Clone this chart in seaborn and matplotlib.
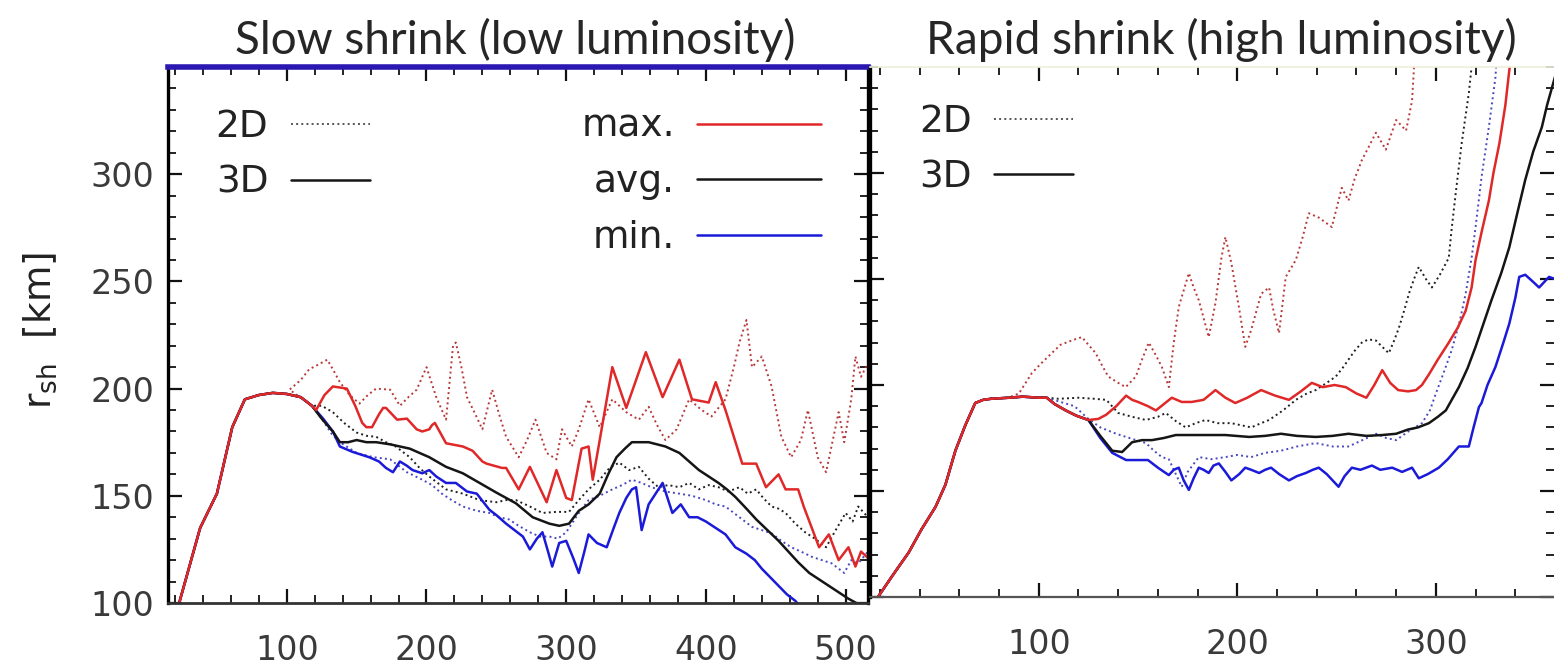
import numpy as np
import pandas as pd
import seaborn as sns
import matplotlib
matplotlib.use("Agg")
import matplotlib.pyplot as plt
from matplotlib.lines import Line2D
from matplotlib.ticker import MultipleLocator

# ---------------- data: left panel (slow shrink) ----------------
left_rise_x = [15, 23, 38, 50, 61, 70, 80, 90, 100, 110, 118]
left_rise_y = [89, 100, 135, 151, 182, 195, 197, 198, 197.5, 196, 192]

left_3d_max_x = [121, 127, 133, 143, 149, 154, 157, 161, 166, 169, 171, 179, 186, 193, 197, 202, 204, 206, 214, 226, 233,
                 240, 243, 254, 257, 266, 274, 286, 293, 300, 304, 311, 316, 319, 324, 333, 343, 357, 369, 381, 390,
                 402, 407, 414, 426, 436, 443, 452, 457, 466, 470, 481, 488, 495, 502, 507, 511, 516]
left_3d_max_y = [190, 197, 201, 200, 192, 184, 182, 182, 188, 191, 191, 185.5, 186, 181, 180, 181, 183, 184, 174.5, 173, 171,
                 166, 165, 163, 163, 153, 163.5, 147, 162, 149, 148, 172, 173, 157.5, 176, 210, 191, 217, 196, 213.5, 195,
                 193.5, 203, 190, 165, 165, 154, 160, 153, 153, 145, 126, 132, 120, 126, 117, 124, 121]

left_3d_avg_x = [125, 133, 138, 144, 150, 157, 164, 174, 188, 202, 214, 226, 238, 250, 264, 276, 288, 295, 302, 309,
                 316, 324, 330, 336, 342, 347, 353, 359, 365, 371, 381, 388, 395, 402, 409, 415, 421, 429, 436, 444,
                 452, 459, 466, 474, 481, 488, 495, 502, 509, 516]
left_3d_avg_y = [186, 180, 175, 175, 176, 175, 175, 174, 172, 168, 163.5, 160.5, 156, 151.5, 146.5, 140, 137, 136, 137, 143,
                 146, 151, 160, 168, 172, 175, 175, 175, 174, 173, 170, 166, 162, 159, 156, 153, 149.5, 144, 139, 134,
                 129, 124, 119, 114, 111, 108, 105, 102, 99.5, 97]

left_3d_min_x = [126, 133, 138, 147, 159, 166, 171, 176, 181, 186, 190, 197, 202, 207, 214, 221, 229, 236, 245, 250,
                 257, 263, 269, 274, 279, 283, 287, 290, 295, 300, 305, 309, 313, 316, 322, 329, 334, 338, 343, 347,
                 350, 354, 359, 364, 369, 372, 376, 382, 388, 394, 400, 407, 414, 421, 429, 435, 440, 446, 452, 458,
                 464, 470]
left_3d_min_y = [186, 180, 173, 170.5, 168, 166, 163, 161, 166, 164, 162, 160.5, 162, 159, 156, 156, 152, 151, 143.5, 141,
                 137, 134, 131, 125, 130, 133, 124, 117, 128, 129, 121, 114, 124, 132, 128, 126, 135, 142, 149, 153,
                 154, 134, 146, 151, 156, 150, 142, 146, 140, 140, 138, 135, 132, 126, 123, 120, 116, 112, 108, 104,
                 101, 96]

left_2d_max_x = [102, 110, 116, 122, 129, 133, 138, 145, 152, 158, 164, 174, 181, 187, 193, 200, 207, 214, 219, 221,
                 225, 229, 235, 240, 247, 252, 257, 266, 272, 278, 286, 293, 297, 304, 309, 316, 324, 333, 343, 352,
                 359, 365, 371, 379, 388, 397, 404, 414, 420, 424, 429, 433, 440, 447, 454, 461, 468, 473, 480, 486,
                 495, 499, 504, 507, 511, 516]
left_2d_max_y = [199.5, 204, 209, 211, 213.5, 209, 203, 197, 193, 197, 200, 199.5, 192, 196, 199.5, 210, 196, 185.5, 220, 221.5,
                 210, 196, 188, 181, 199.5, 188, 177.5, 168, 176, 185.5, 170, 167, 181, 173, 181, 195, 182, 195, 189, 185.5,
                 191.5, 183, 176, 181, 195, 190, 187, 195, 210, 221.5, 232, 210, 215, 201, 177.5, 168, 176, 190, 168, 161,
                 189, 175, 195, 215, 205.5, 212]

left_2d_avg_x = [125, 133, 141, 150, 157, 164, 171, 178, 188, 195, 202, 208, 214, 226, 238, 250, 257, 264, 274, 283,
                 293, 302, 309, 316, 324, 331, 338, 345, 352, 359, 366, 373, 381, 388, 395, 402, 409, 416, 424, 430,
                 436, 441, 447, 452, 457, 464, 471, 478, 486, 492, 500, 505, 509, 516]
left_2d_avg_y = [192, 189, 184, 179.5, 178, 177.5, 175, 173, 168, 163, 159, 156, 153, 151, 148, 147, 148, 148, 145, 142,
                 142.5, 142.5, 148, 153, 157.5, 163, 165.5, 162, 163.5, 158, 154, 155, 154, 156, 153, 155, 154, 152, 154, 151,
                 153, 149, 145, 144, 142, 137, 133, 130, 126, 133, 142, 138, 145, 140]

left_2d_min_x = [125, 132, 138, 150, 162, 174, 186, 197, 204, 211, 218, 226, 236, 245, 252, 259, 266, 274, 281, 288,
                 294, 300, 308, 316, 324, 333, 340, 347, 354, 361, 371, 381, 390, 400, 407, 414, 424, 433, 440, 447,
                 454, 461, 468, 476, 483, 490, 495, 499, 504, 509, 516]
left_2d_min_y = [186, 179, 175, 170, 168, 167, 161, 157.5, 155, 151, 148, 145, 143, 142, 140, 139, 136, 133, 131, 131,
                 130, 133, 141, 148, 150, 153, 155, 157.5, 156, 154, 152, 151, 150, 148, 146, 145, 140, 135.5, 134, 132.5,
                 129, 126, 124, 121.5, 120, 118.5, 116, 114, 120, 118.5, 124]

# ---------------- data: right panel (rapid shrink) ----------------
right_rise_x = [15, 19, 27, 34.5, 41, 48, 53, 58, 63, 68, 72, 76, 85, 92, 100, 104]
right_rise_y = [92, 100, 111, 121, 132, 142.5, 153, 169, 181, 191.5, 193, 193.5, 194, 194.5, 194, 194]

right_3d_max_x = [108, 113.6, 119, 125, 130, 134, 139, 144, 147, 150, 155, 159, 163, 167, 172, 177, 183, 189, 194, 199,
                  205, 212, 219, 226, 232, 237.5, 243, 249, 254.6, 260, 265, 269, 273, 277, 281, 286, 290, 293, 296.5, 301,
                  306.5, 311, 315, 318, 320, 323, 326.7, 329, 332, 335, 337, 339]
right_3d_max_y = [191, 188, 185.5, 183.5, 184, 186, 190, 195, 193, 192, 190, 188, 191, 194, 192, 192, 193, 197.6, 194, 191.5,
                  194, 197.6, 195, 193, 197, 201, 199, 200, 199, 196, 194, 200, 207, 201, 197.6, 197, 197.6, 200, 205, 212,
                  220, 227, 235, 246, 259, 272, 287, 300, 314, 332, 348.6, 360]

right_3d_avg_x = [108, 113.6, 119, 125, 131, 137, 142, 147, 152, 157, 163, 169, 180, 194, 206, 214, 222, 230, 239.5, 248,
                  256, 265, 273, 280, 286, 291, 296.5, 301, 305, 308, 311.6, 316, 320, 324, 328, 333, 337, 341, 345, 349,
                  353.4, 356, 359, 362]
right_3d_avg_y = [191, 188, 185.5, 183.5, 176, 169, 168.4, 173, 174, 174, 175, 176.4, 176.4, 176.4, 175.5, 176, 177, 176, 175.5, 176,
                  177, 176, 176.4, 177, 179, 180, 182, 185, 188, 193, 199, 208, 218, 229, 240, 253, 265, 281, 296.7, 310,
                  321.7, 332, 342, 352]

right_3d_min_x = [108, 113.6, 119, 125, 131, 137, 144, 150, 155, 160, 165.5, 168, 170.5, 173, 175.6, 178, 180.6, 183, 185.6, 188,
                  190.7, 194, 197, 201, 204, 207, 211, 214, 217, 221, 226, 230, 234.5, 238, 241, 245, 248, 251, 254, 257.7,
                  262, 267.8, 272, 278, 283, 288, 291.4, 296, 301.5, 306, 311.6, 316.6, 319, 321.7, 323, 326, 330, 334, 337, 340,
                  342, 345, 348, 352, 355, 357, 360]
right_3d_min_y = [191, 188, 185.5, 183.5, 175, 168, 164.6, 164.6, 164.6, 161, 157.5, 160, 161, 155, 150.5, 156, 161, 160, 158.5, 162,
                  163, 159, 155, 158, 161, 160, 158.5, 160, 161, 158, 155, 157, 158.5, 160, 161, 158, 155, 152, 157, 161,
                  160, 162, 160, 161, 159, 161, 156, 158, 161, 165, 171, 171, 180, 189.6, 191.5, 200, 208.5, 220, 229, 241,
                  251, 252, 249.5, 246, 249, 251, 250]

right_2d_max_x = [86, 90, 96.5, 101, 106.5, 111, 116.6, 121.7, 125, 128.7, 132, 135, 140, 143.8, 148.9, 152, 155.4, 159, 162, 165.5,
                  168, 170.5, 175.6, 178, 180.6, 185.6, 189, 192, 194, 197, 200.8, 204, 207, 212, 216, 218, 221, 224.4, 229.5, 233,
                  236, 241, 247.6, 252.6, 256, 259, 262.7, 266, 269.8, 274.8, 280, 285, 288, 289, 290]
right_2d_max_y = [194.5, 196, 205.6, 210, 215, 219, 221, 222.6, 219, 215, 209, 204, 201, 199, 204, 212, 220, 214, 208.5, 199,
                  220, 236.8, 252.8, 246, 240, 222.6, 238.7, 260, 269.8, 257.5, 236.8, 218, 226, 243, 246, 236, 224.5, 251, 259, 270,
                  281, 279, 274.5, 293, 287, 297, 306, 312, 319, 311, 325, 320, 334, 350, 365]

right_2d_avg_x = [110, 120, 128, 134, 140, 147, 154, 160, 164, 169, 174, 179, 184, 190, 197, 202, 207, 212, 216, 223,
                  229.5, 235, 239.5, 245, 249.6, 253, 256, 259, 262.7, 266, 269.8, 273, 276.3, 279, 281.4, 284, 286.4, 289, 291.4, 295,
                  298, 302, 306.5, 308, 310, 313, 316.6, 318, 319]
right_2d_avg_y = [193.5, 194, 193.5, 193, 186.8, 185, 183.5, 185, 186.8, 183, 180, 182, 183.5, 182, 182, 181, 180, 182, 183.5, 188,
                  193, 196, 197.6, 201, 204, 208, 212, 216, 220, 221.5, 221, 218, 215, 221, 227, 235, 243, 250, 255.7, 250,
                  246, 252, 260, 274, 290.5, 314, 337.7, 350, 362]

right_2d_min_x = [118, 125, 131, 139, 144, 149, 154, 158, 162, 165.5, 168, 172, 175, 180.6, 187, 194, 200, 207, 214, 222,
                  230, 239.5, 248, 256, 263, 270, 275, 280, 286, 293, 297, 300, 304, 308, 312, 315, 318, 320, 323, 326.7,
                  330, 331]
right_2d_min_y = [190, 184, 180, 177, 175.5, 174, 172.6, 169, 166, 165, 160, 152, 159, 166, 165, 166, 167, 166, 168, 169,
                  171, 172.6, 171, 171, 174, 177, 175, 174, 178, 182, 188, 196, 206, 216.5, 230, 243, 260, 274.5, 298, 321.7,
                  345, 360]

x_ticks_left = [100, 200, 300, 400, 500]
x_ticks_right = [100, 200, 300]
y_ticks = [100, 150, 200, 250, 300]

titles = ["Slow shrink (low luminosity)", "Rapid shrink (high luminosity)"]

# ---------------- styling ----------------
sns.set_theme(style="ticks")
plt.rcParams["font.family"] = ["DejaVu Sans"]
plt.rcParams["mathtext.default"] = "regular"

C_RED = "#e02828"
C_BLK = "#151515"
C_BLU = "#1a1ad8"
C_RED_D = "#b83838"
C_BLK_D = "#202020"
C_BLU_D = "#4848c0"
TICK_C = "#3a3a3a"

W, H = 1554, 667
fig = plt.figure(figsize=(W / 100, H / 100), dpi=100)
axL = fig.add_axes([168 / W, 1 - 603 / H, 700 / W, 536 / H])
axR = fig.add_axes([870 / W, 1 - 597 / H, 684 / W, 530 / H])


def draw(ax, rx, ry, series):
    for xs, ys, col, ls, lw in series:
        sns.lineplot(x=list(rx) + list(xs), y=list(ry) + list(ys), ax=ax, color=col,
                     linestyle=ls, linewidth=lw, estimator=None, sort=False, legend=False)


draw(axL, left_rise_x, left_rise_y, [
    (left_2d_max_x, left_2d_max_y, C_RED_D, ":", 1.4),
    (left_2d_avg_x, left_2d_avg_y, C_BLK_D, ":", 1.4),
    (left_2d_min_x, left_2d_min_y, C_BLU_D, ":", 1.4),
    (left_3d_min_x, left_3d_min_y, C_BLU, "-", 1.8),
    (left_3d_avg_x, left_3d_avg_y, C_BLK, "-", 1.8),
    (left_3d_max_x, left_3d_max_y, C_RED, "-", 1.8),
])
draw(axR, right_rise_x, right_rise_y, [
    (right_2d_max_x, right_2d_max_y, C_RED_D, ":", 1.4),
    (right_2d_avg_x, right_2d_avg_y, C_BLK_D, ":", 1.4),
    (right_2d_min_x, right_2d_min_y, C_BLU_D, ":", 1.4),
    (right_3d_min_x, right_3d_min_y, C_BLU, "-", 1.8),
    (right_3d_avg_x, right_3d_avg_y, C_BLK, "-", 1.8),
    (right_3d_max_x, right_3d_max_y, C_RED, "-", 1.8),
])

for ax, xlim, xt in [(axL, (15, 516), x_ticks_left), (axR, (15, 359.5), x_ticks_right)]:
    ax.set_xlim(*xlim)
    ax.set_ylim(100, 350)
    ax.set_xticks(xt)
    ax.set_yticks(y_ticks)
    ax.xaxis.set_minor_locator(MultipleLocator(20))
    ax.yaxis.set_minor_locator(MultipleLocator(10))
    ax.tick_params(which="both", direction="in", top=True, right=True, color="#111111")
    ax.tick_params(which="major", length=10, width=1.6)
    ax.tick_params(which="minor", length=6, width=1.3)
    ax.tick_params(axis="x", labelsize=24, labelcolor=TICK_C, pad=22)
    ax.tick_params(axis="y", labelsize=24, labelcolor=TICK_C, pad=10)
    ax.set_xlabel("")
    ax.set_ylabel("")
    ax.set_facecolor("white")

axR.tick_params(axis="y", labelleft=False)

for sp in ["left", "right"]:
    axL.spines[sp].set_linewidth(2.4)
    axL.spines[sp].set_color("#000000")
axL.spines["bottom"].set_linewidth(2.0)
axL.spines["bottom"].set_color("#333333")
axL.spines["top"].set_linewidth(4)
axL.spines["top"].set_color("#2a18b0")

axR.spines["left"].set_linewidth(2.4)
axR.spines["left"].set_color("#000000")
axR.spines["bottom"].set_linewidth(1.6)
axR.spines["bottom"].set_color("#555555")
axR.spines["top"].set_color("#efefdc")
axR.spines["right"].set_visible(False)

# legends
lg_kw = dict(frameon=False, markerfirst=False, fontsize=27, borderpad=0, borderaxespad=0,
             labelspacing=0.52, labelcolor="#222222")
h2d = Line2D([], [], color="#555555", linestyle=":", linewidth=1.4)
h3d = Line2D([], [], color=C_BLK, linestyle="-", linewidth=1.8)
leg1 = axL.legend([h2d, h3d], ["2D", "3D"], loc="upper left", bbox_to_anchor=(0.068, 0.921),
                  handlelength=2.1, handletextpad=0.6, **lg_kw)
axL.add_artist(leg1)
hmx = Line2D([], [], color=C_RED, linewidth=1.8)
hav = Line2D([], [], color=C_BLK, linewidth=1.8)
hmn = Line2D([], [], color=C_BLU, linewidth=1.8)
axL.legend([hmx, hav, hmn], ["max.", "avg.", "min."], loc="upper right", bbox_to_anchor=(0.933, 0.922),
           handlelength=3.3, handletextpad=0.6, **lg_kw)
axR.legend([h2d, h3d], ["2D", "3D"], loc="upper left", bbox_to_anchor=(0.072, 0.93),
           handlelength=2.1, handletextpad=0.6, **lg_kw)

# titles and y label
fig.text(515 / W, 1 - 40 / H, titles[0], ha="center", va="center", fontsize=33, family=["Lato", "DejaVu Sans"])
fig.text(1221 / W, 1 - 40 / H, titles[1], ha="center", va="center", fontsize=33, family=["Lato", "DejaVu Sans"])
fig.text(40 / W, 1 - 330 / H, r"r$_{sh}$  [km]", rotation=90, ha="center", va="center",
         fontsize=27, color="#222222")

fig.savefig("out.png", dpi=100, facecolor="white")
